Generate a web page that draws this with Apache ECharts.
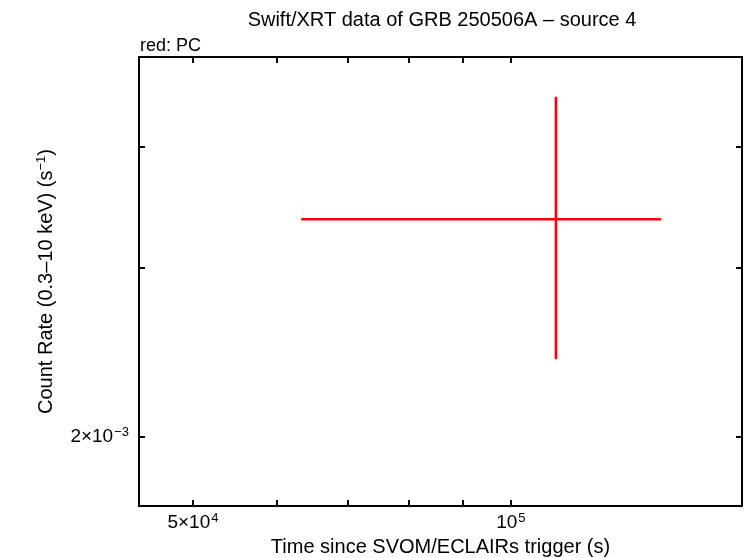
<!DOCTYPE html>
<html>
<head>
<meta charset="utf-8">
<script src="https://cdn.jsdelivr.net/npm/echarts@6/dist/echarts.min.js"></script>
<style>
html,body{margin:0;padding:0;background:#fff;}
#c{width:746px;height:558px;}
</style>
</head>
<body>
<div id="c"></div>
<script>
// ---- data ----
const time = [110300];          // s since trigger
const timeLow = [63300];        // left end of x error bar
const timeHigh = [138700];      // right end of x error bar
const rate = [3.365e-3];        // count rate (s^-1)
const rateLow = [2.408e-3];
const rateHigh = [4.51e-3];

// ---- axes ----
const xMin = 44450, xMax = 165500;
const yMin = 1.696e-3, yMax = 4.96e-3;
const xTickValues = [50000, 60000, 70000, 80000, 90000, 100000];
const xLabelValues = [50000, 100000];
const xLabelMant = ['5×10', '10'];
const xLabelExp = ['4', '5'];
const yTickValues = [0.002, 0.003, 0.004];
const yLabelValues = [0.002];
const yLabelMant = ['2×10'];
const yLabelExp = ['−3'];

const FONT = 'Liberation Sans';

function near(a, b) { return Math.abs(a - b) / b < 1e-6; }

function xFmt(v) {
  for (let i = 0; i < xLabelValues.length; i++) if (near(v, xLabelValues[i])) return '{m|' + xLabelMant[i] + '}{e|' + xLabelExp[i] + '}';
  return '';
}
function yFmt(v) {
  for (let i = 0; i < yLabelValues.length; i++) if (near(v, yLabelValues[i])) return '{m|' + yLabelMant[i] + '}{e|' + yLabelExp[i] + '}';
  return '';
}
const rich = {
  m: { fontFamily: FONT, fontSize: 19, color: '#000' },
  e: { fontFamily: FONT, fontSize: 13, color: '#000', verticalAlign: 'top', padding: [0, 0, 9, 1] }
};

const data = time.map((t, i) => [t, timeLow[i], timeHigh[i], rate[i], rateLow[i], rateHigh[i]]);

const chart = echarts.init(document.getElementById('c'), null, { renderer: 'canvas' });

function xAx(pos, showLabel) {
  return {
    type: 'log', logBase: 10, position: pos, min: xMin, max: xMax,
    axisLine: { show: false },
    splitLine: { show: false },
    axisTick: { show: true, inside: true, length: 6, customValues: xTickValues, lineStyle: { color: '#000', width: 2 } },
    axisLabel: { show: showLabel, customValues: xLabelValues, formatter: xFmt, rich: rich, margin: 6 },
    name: showLabel ? 'Time since SVOM/ECLAIRs trigger (s)' : '',
    nameLocation: 'middle', nameGap: 31,
    nameTextStyle: { fontFamily: FONT, fontSize: 20, color: '#000' }
  };
}
function yAx(pos, showLabel) {
  return {
    type: 'log', logBase: 10, position: pos, min: yMin, max: yMax,
    axisLine: { show: false },
    splitLine: { show: false },
    axisTick: { show: true, inside: true, length: 6, customValues: yTickValues, lineStyle: { color: '#000', width: 2 } },
    axisLabel: { show: showLabel, customValues: yLabelValues, formatter: yFmt, rich: rich, margin: 10 },
    name: showLabel ? 'Count Rate (0.3–10 keV) (s{e|−1})' : '',
    nameLocation: 'middle', nameGap: 82, nameRotate: 90,
    nameTextStyle: { fontFamily: FONT, fontSize: 20, color: '#000', rich: { e: { fontFamily: FONT, fontSize: 13, color: '#000', verticalAlign: 'top', padding: [0, 0, 9, 0] } } }
  };
}

chart.setOption({
  animation: false,
  backgroundColor: '#fff',
  title: [
    { text: 'Swift/XRT data of GRB 250506A – source 4', left: 437, top: 5, textAlign: 'center',
      textStyle: { fontFamily: FONT, fontSize: 20, fontWeight: 'normal', color: '#000' } },
    { text: 'red: PC', left: 135, top: 32,
      textStyle: { fontFamily: FONT, fontSize: 18, fontWeight: 'normal', color: '#000' } }
  ],
  grid: { left: 139, right: 4, top: 57, bottom: 52, outerBoundsMode: 'none', containLabel: false,
    show: true, borderColor: '#000', borderWidth: 2, backgroundColor: 'transparent' },
  xAxis: [xAx('bottom', true), xAx('top', false)],
  yAxis: [yAx('left', true), yAx('right', false)],
  series: [{
    type: 'custom',
    xAxisIndex: 0, yAxisIndex: 0,
    data: data,
    renderItem: function (params, api) {
      const c = api.coord([api.value(0), api.value(3)]);
      const l = api.coord([api.value(1), api.value(3)]);
      const r = api.coord([api.value(2), api.value(3)]);
      const b = api.coord([api.value(0), api.value(4)]);
      const t = api.coord([api.value(0), api.value(5)]);
      const st = { stroke: '#ff0000', lineWidth: 2.5 };
      return { type: 'group', children: [
        { type: 'line', shape: { x1: l[0], y1: l[1], x2: r[0], y2: r[1] }, style: st },
        { type: 'line', shape: { x1: c[0], y1: t[1], x2: c[0], y2: b[1] }, style: st }
      ] };
    }
  }]
});
</script>
</body>
</html>
